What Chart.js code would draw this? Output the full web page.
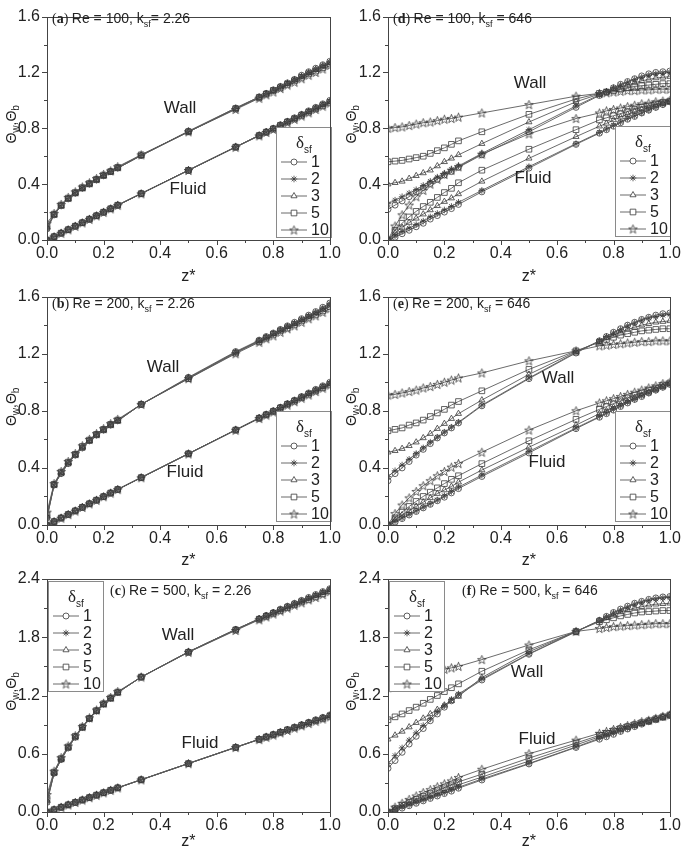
<!DOCTYPE html>
<html>
<head>
<meta charset="utf-8">
<script src="https://cdn.jsdelivr.net/npm/chart.js@4.4.1/dist/chart.umd.min.js"></script>
<style>
body { margin: 0; background: #fff; width: 685px; height: 855px; position: relative; overflow: hidden; }
canvas { position: absolute; }
</style>
</head>
<body>
<canvas id="pa" width="345" height="290" style="left:0;top:0"></canvas>
<canvas id="pd" width="345" height="290" style="left:340px;top:0"></canvas>
<canvas id="pb" width="345" height="290" style="left:0;top:280px"></canvas>
<canvas id="pe" width="345" height="290" style="left:340px;top:280px"></canvas>
<canvas id="pc" width="345" height="290" style="left:0;top:560px"></canvas>
<canvas id="pf" width="345" height="290" style="left:340px;top:560px"></canvas>
<script>
// axial position z*
const zStar = [0, 0.025, 0.05, 0.075, 0.1, 0.125, 0.15, 0.175, 0.2, 0.225, 0.25, 0.333, 0.5, 0.667,
               0.75, 0.775, 0.8, 0.825, 0.85, 0.875, 0.9, 0.925, 0.95, 0.975, 1.0];
const xTicks = [0, 0.2, 0.4, 0.6, 0.8, 1.0];
const yTicksLow = [0, 0.4, 0.8, 1.2, 1.6];
const yTicksHigh = [0, 0.6, 1.2, 1.8, 2.4];
const deltaLabels = ['1', '2', '3', '5', '10'];

// fluid, k_sf = 2.26 (a, b, c look the same)
const kFluid1 = [0, 0.025, 0.05, 0.075, 0.1, 0.125, 0.15, 0.175, 0.2, 0.225, 0.25, 0.333, 0.5, 0.667, 0.75, 0.775, 0.8, 0.825, 0.85, 0.875, 0.9, 0.925, 0.95, 0.975, 1.0];
const kFluid2 = [0, 0.025, 0.05, 0.075, 0.1, 0.125, 0.15, 0.175, 0.2, 0.225, 0.25, 0.333, 0.5, 0.667, 0.75, 0.774, 0.798, 0.823, 0.848, 0.873, 0.898, 0.922, 0.946, 0.97, 0.995];
const kFluid3 = [0, 0.025, 0.05, 0.075, 0.1, 0.125, 0.15, 0.175, 0.2, 0.225, 0.25, 0.333, 0.5, 0.666, 0.749, 0.773, 0.797, 0.821, 0.846, 0.87, 0.895, 0.919, 0.943, 0.967, 0.99];
const kFluid5 = [0, 0.024, 0.049, 0.074, 0.099, 0.124, 0.149, 0.174, 0.199, 0.224, 0.249, 0.332, 0.499, 0.665, 0.748, 0.772, 0.795, 0.82, 0.845, 0.868, 0.892, 0.916, 0.94, 0.963, 0.986];
const kFluid10 = [0, 0.023, 0.048, 0.073, 0.098, 0.123, 0.148, 0.173, 0.198, 0.223, 0.248, 0.331, 0.498, 0.664, 0.746, 0.77, 0.792, 0.816, 0.84, 0.864, 0.888, 0.911, 0.935, 0.958, 0.98];

// (a) Re = 100, k_sf = 2.26
const aWall1 = [0.08, 0.18, 0.245, 0.295, 0.335, 0.37, 0.40, 0.43, 0.46, 0.49, 0.515, 0.605, 0.78, 0.945, 1.025, 1.05, 1.075, 1.10, 1.125, 1.15, 1.18, 1.205, 1.23, 1.255, 1.28];
const aWall2 = [0.08, 0.18, 0.245, 0.295, 0.335, 0.37, 0.40, 0.43, 0.46, 0.49, 0.515, 0.605, 0.775, 0.945, 1.025, 1.05, 1.075, 1.10, 1.125, 1.15, 1.175, 1.20, 1.225, 1.25, 1.275];
const aWall3 = [0.09, 0.18, 0.245, 0.295, 0.335, 0.37, 0.40, 0.43, 0.46, 0.49, 0.515, 0.605, 0.775, 0.94, 1.02, 1.045, 1.07, 1.095, 1.12, 1.145, 1.17, 1.195, 1.22, 1.245, 1.27];
const aWall5 = [0.10, 0.185, 0.25, 0.30, 0.34, 0.375, 0.405, 0.435, 0.465, 0.49, 0.52, 0.61, 0.775, 0.94, 1.02, 1.045, 1.07, 1.09, 1.115, 1.14, 1.165, 1.19, 1.21, 1.235, 1.26];
const aWall10 = [0.12, 0.19, 0.255, 0.305, 0.345, 0.38, 0.41, 0.44, 0.47, 0.495, 0.525, 0.61, 0.775, 0.935, 1.015, 1.04, 1.06, 1.085, 1.11, 1.13, 1.155, 1.18, 1.20, 1.225, 1.25];

// (b) Re = 200, k_sf = 2.26
const bWall1 = [0.05, 0.28, 0.36, 0.43, 0.49, 0.54, 0.59, 0.63, 0.665, 0.70, 0.73, 0.845, 1.035, 1.215, 1.295, 1.32, 1.345, 1.37, 1.395, 1.42, 1.445, 1.47, 1.495, 1.525, 1.555];
const bWall2 = [0.05, 0.28, 0.36, 0.43, 0.49, 0.54, 0.59, 0.63, 0.665, 0.70, 0.73, 0.845, 1.03, 1.21, 1.29, 1.315, 1.34, 1.365, 1.39, 1.415, 1.44, 1.465, 1.49, 1.52, 1.55];
const bWall3 = [0.06, 0.28, 0.365, 0.435, 0.49, 0.545, 0.59, 0.63, 0.665, 0.70, 0.73, 0.845, 1.03, 1.21, 1.29, 1.315, 1.34, 1.365, 1.39, 1.41, 1.435, 1.46, 1.485, 1.51, 1.54];
const bWall5 = [0.07, 0.285, 0.37, 0.44, 0.495, 0.55, 0.595, 0.635, 0.67, 0.705, 0.735, 0.845, 1.025, 1.205, 1.285, 1.31, 1.335, 1.36, 1.38, 1.405, 1.43, 1.455, 1.475, 1.50, 1.53];
const bWall10 = [0.09, 0.29, 0.375, 0.445, 0.50, 0.555, 0.60, 0.64, 0.675, 0.71, 0.74, 0.845, 1.025, 1.20, 1.28, 1.305, 1.325, 1.35, 1.375, 1.395, 1.42, 1.445, 1.465, 1.49, 1.515];

// (c) Re = 500, k_sf = 2.26
const cWall1 = [0.10, 0.40, 0.54, 0.66, 0.77, 0.87, 0.96, 1.04, 1.11, 1.17, 1.23, 1.39, 1.65, 1.88, 1.99, 2.025, 2.055, 2.09, 2.12, 2.15, 2.18, 2.21, 2.24, 2.27, 2.30];
const cWall2 = [0.10, 0.40, 0.54, 0.66, 0.77, 0.87, 0.96, 1.04, 1.11, 1.17, 1.23, 1.39, 1.65, 1.88, 1.99, 2.02, 2.055, 2.085, 2.115, 2.145, 2.175, 2.205, 2.235, 2.265, 2.295];
const cWall3 = [0.12, 0.40, 0.545, 0.665, 0.775, 0.87, 0.96, 1.04, 1.11, 1.17, 1.23, 1.39, 1.65, 1.88, 1.99, 2.02, 2.05, 2.08, 2.11, 2.14, 2.17, 2.20, 2.23, 2.26, 2.29];
const cWall5 = [0.14, 0.41, 0.55, 0.67, 0.78, 0.875, 0.965, 1.045, 1.115, 1.175, 1.235, 1.39, 1.645, 1.875, 1.985, 2.015, 2.045, 2.075, 2.105, 2.135, 2.165, 2.19, 2.22, 2.25, 2.28];
const cWall10 = [0.18, 0.42, 0.56, 0.68, 0.785, 0.88, 0.97, 1.05, 1.12, 1.18, 1.24, 1.39, 1.645, 1.87, 1.98, 2.01, 2.04, 2.07, 2.10, 2.13, 2.155, 2.185, 2.21, 2.24, 2.27];

// (d) Re = 100, k_sf = 646
const dWall1 = [0.22, 0.25, 0.28, 0.31, 0.345, 0.375, 0.405, 0.435, 0.465, 0.49, 0.52, 0.61, 0.775, 0.95, 1.035, 1.06, 1.09, 1.115, 1.135, 1.155, 1.175, 1.19, 1.20, 1.205, 1.21];
const dWall2 = [0.26, 0.285, 0.31, 0.335, 0.36, 0.39, 0.42, 0.45, 0.475, 0.505, 0.53, 0.62, 0.79, 0.96, 1.04, 1.065, 1.09, 1.11, 1.13, 1.15, 1.165, 1.18, 1.19, 1.195, 1.20];
const dWall3 = [0.40, 0.41, 0.42, 0.44, 0.46, 0.48, 0.50, 0.53, 0.56, 0.585, 0.61, 0.69, 0.845, 0.99, 1.045, 1.06, 1.08, 1.095, 1.11, 1.125, 1.14, 1.15, 1.16, 1.165, 1.17];
const dWall5 = [0.56, 0.565, 0.57, 0.58, 0.59, 0.60, 0.62, 0.64, 0.66, 0.685, 0.71, 0.775, 0.90, 1.01, 1.05, 1.06, 1.07, 1.08, 1.09, 1.10, 1.105, 1.11, 1.115, 1.12, 1.12];
const dWall10 = [0.80, 0.805, 0.81, 0.82, 0.83, 0.84, 0.845, 0.855, 0.865, 0.87, 0.88, 0.91, 0.97, 1.03, 1.05, 1.055, 1.06, 1.065, 1.07, 1.07, 1.075, 1.075, 1.08, 1.08, 1.08];
const dFluid1 = [0, 0.02, 0.045, 0.07, 0.095, 0.12, 0.15, 0.175, 0.2, 0.225, 0.255, 0.345, 0.515, 0.685, 0.765, 0.79, 0.815, 0.84, 0.865, 0.885, 0.91, 0.93, 0.95, 0.97, 0.99];
const dFluid2 = [0, 0.03, 0.06, 0.085, 0.11, 0.135, 0.165, 0.19, 0.215, 0.24, 0.27, 0.355, 0.525, 0.69, 0.77, 0.795, 0.82, 0.845, 0.87, 0.89, 0.91, 0.93, 0.95, 0.97, 0.99];
const dFluid3 = [0, 0.05, 0.09, 0.125, 0.155, 0.185, 0.215, 0.245, 0.275, 0.30, 0.33, 0.42, 0.585, 0.74, 0.815, 0.835, 0.86, 0.88, 0.90, 0.92, 0.935, 0.95, 0.965, 0.98, 0.99];
const dFluid5 = [0, 0.07, 0.12, 0.165, 0.205, 0.24, 0.27, 0.305, 0.34, 0.37, 0.41, 0.50, 0.65, 0.79, 0.86, 0.875, 0.89, 0.905, 0.92, 0.935, 0.95, 0.96, 0.975, 0.985, 0.995];
const dFluid10 = [0, 0.10, 0.18, 0.25, 0.31, 0.355, 0.40, 0.435, 0.47, 0.50, 0.525, 0.615, 0.76, 0.87, 0.91, 0.925, 0.935, 0.945, 0.955, 0.965, 0.975, 0.98, 0.99, 0.995, 1.0];

// (e) Re = 200, k_sf = 646
const eWall1 = [0.31, 0.36, 0.40, 0.445, 0.49, 0.53, 0.57, 0.61, 0.645, 0.68, 0.715, 0.835, 1.025, 1.205, 1.29, 1.32, 1.35, 1.375, 1.40, 1.42, 1.44, 1.455, 1.47, 1.48, 1.485];
const eWall2 = [0.34, 0.38, 0.42, 0.46, 0.50, 0.54, 0.58, 0.615, 0.65, 0.685, 0.72, 0.84, 1.03, 1.21, 1.29, 1.32, 1.345, 1.37, 1.395, 1.415, 1.435, 1.45, 1.46, 1.47, 1.475];
const eWall3 = [0.51, 0.52, 0.535, 0.555, 0.58, 0.61, 0.64, 0.675, 0.71, 0.745, 0.78, 0.875, 1.055, 1.215, 1.285, 1.31, 1.33, 1.35, 1.37, 1.385, 1.40, 1.41, 1.42, 1.425, 1.43];
const eWall5 = [0.66, 0.67, 0.68, 0.70, 0.715, 0.735, 0.76, 0.785, 0.81, 0.84, 0.865, 0.94, 1.09, 1.22, 1.28, 1.30, 1.315, 1.33, 1.34, 1.35, 1.36, 1.365, 1.37, 1.375, 1.375];
const eWall10 = [0.91, 0.915, 0.925, 0.935, 0.945, 0.96, 0.97, 0.985, 1.0, 1.015, 1.03, 1.065, 1.15, 1.22, 1.255, 1.26, 1.265, 1.27, 1.275, 1.28, 1.285, 1.285, 1.29, 1.29, 1.29];
const eFluid1 = [0, 0.02, 0.045, 0.07, 0.095, 0.12, 0.145, 0.17, 0.195, 0.225, 0.255, 0.34, 0.505, 0.675, 0.755, 0.78, 0.805, 0.83, 0.855, 0.88, 0.90, 0.925, 0.945, 0.965, 0.985];
const eFluid2 = [0, 0.025, 0.05, 0.075, 0.10, 0.125, 0.15, 0.175, 0.205, 0.235, 0.265, 0.35, 0.515, 0.68, 0.76, 0.785, 0.81, 0.835, 0.86, 0.88, 0.905, 0.925, 0.945, 0.965, 0.985];
const eFluid3 = [0, 0.035, 0.07, 0.10, 0.13, 0.16, 0.19, 0.22, 0.245, 0.27, 0.30, 0.385, 0.545, 0.70, 0.78, 0.80, 0.825, 0.845, 0.865, 0.89, 0.91, 0.93, 0.95, 0.97, 0.99];
const eFluid5 = [0, 0.05, 0.09, 0.13, 0.165, 0.20, 0.23, 0.26, 0.29, 0.32, 0.345, 0.43, 0.59, 0.74, 0.81, 0.83, 0.85, 0.87, 0.89, 0.91, 0.925, 0.945, 0.96, 0.98, 0.995];
const eFluid10 = [0, 0.08, 0.14, 0.19, 0.235, 0.275, 0.31, 0.345, 0.375, 0.405, 0.43, 0.51, 0.665, 0.80, 0.855, 0.87, 0.885, 0.90, 0.915, 0.93, 0.945, 0.96, 0.975, 0.99, 1.0];

// (f) Re = 500, k_sf = 646
const fWall1 = [0.45, 0.53, 0.615, 0.70, 0.78, 0.86, 0.94, 1.01, 1.08, 1.145, 1.205, 1.36, 1.625, 1.855, 1.975, 2.015, 2.055, 2.09, 2.12, 2.15, 2.17, 2.19, 2.205, 2.215, 2.22];
const fWall2 = [0.50, 0.58, 0.66, 0.74, 0.815, 0.89, 0.96, 1.03, 1.095, 1.16, 1.215, 1.37, 1.63, 1.86, 1.97, 2.01, 2.05, 2.08, 2.11, 2.14, 2.16, 2.18, 2.195, 2.205, 2.21];
const fWall3 = [0.75, 0.79, 0.83, 0.875, 0.92, 0.965, 1.01, 1.055, 1.10, 1.145, 1.19, 1.385, 1.65, 1.86, 1.97, 2.0, 2.03, 2.06, 2.08, 2.10, 2.115, 2.13, 2.14, 2.145, 2.15];
const fWall5 = [0.95, 0.98, 1.01, 1.045, 1.08, 1.12, 1.16, 1.20, 1.24, 1.28, 1.32, 1.45, 1.67, 1.86, 1.96, 1.98, 2.0, 2.02, 2.035, 2.05, 2.06, 2.065, 2.07, 2.075, 2.075];
const fWall10 = [1.28, 1.31, 1.34, 1.37, 1.39, 1.41, 1.43, 1.45, 1.47, 1.485, 1.50, 1.57, 1.72, 1.86, 1.89, 1.90, 1.91, 1.915, 1.92, 1.925, 1.93, 1.935, 1.94, 1.94, 1.94];
const fFluid1 = [0, 0.02, 0.04, 0.065, 0.09, 0.115, 0.14, 0.165, 0.19, 0.215, 0.245, 0.33, 0.495, 0.665, 0.75, 0.775, 0.80, 0.83, 0.855, 0.88, 0.905, 0.93, 0.95, 0.975, 0.995];
const fFluid2 = [0, 0.025, 0.05, 0.075, 0.10, 0.125, 0.15, 0.175, 0.20, 0.225, 0.255, 0.34, 0.50, 0.67, 0.76, 0.785, 0.81, 0.835, 0.86, 0.885, 0.91, 0.93, 0.955, 0.975, 0.995];
const fFluid3 = [0, 0.03, 0.06, 0.085, 0.11, 0.135, 0.16, 0.19, 0.22, 0.25, 0.28, 0.36, 0.525, 0.69, 0.775, 0.80, 0.825, 0.85, 0.875, 0.895, 0.915, 0.94, 0.96, 0.98, 1.0];
const fFluid5 = [0, 0.035, 0.07, 0.10, 0.13, 0.16, 0.19, 0.22, 0.25, 0.28, 0.31, 0.39, 0.555, 0.71, 0.79, 0.81, 0.835, 0.86, 0.88, 0.90, 0.92, 0.94, 0.96, 0.98, 1.0];
const fFluid10 = [0, 0.05, 0.09, 0.13, 0.165, 0.20, 0.23, 0.26, 0.29, 0.32, 0.355, 0.44, 0.60, 0.74, 0.81, 0.83, 0.85, 0.87, 0.89, 0.91, 0.93, 0.945, 0.965, 0.985, 1.0];

const SANS = '"Liberation Sans", Arial, sans-serif';
const SERIF = '"Liberation Serif", "Times New Roman", serif';
const INK = '#222';
const LINE = '#5a5a5a';
const MARK = '#3a3a3a';

// open five-point star, Chart.js has none
const starMark = document.createElement('canvas');
starMark.width = 11;
starMark.height = 11;
(function () {
    const c = starMark.getContext('2d');
    c.strokeStyle = MARK;
    c.lineWidth = 0.8;
    c.beginPath();
    for (let i = 0; i < 10; i++) {
        const r = i % 2 ? 1.9 : 4.6;
        const a = -Math.PI / 2 + i * Math.PI / 5;
        const px = 5.5 + r * Math.cos(a), py = 5.9 + r * Math.sin(a);
        if (i) c.lineTo(px, py); else c.moveTo(px, py);
    }
    c.closePath();
    c.stroke();
})();

const markStyles = ['circle', 'star', 'triangle', 'rect', starMark];
const markSizes = [3, 3.3, 3.5, 4, 4];

function series(ys, i, label) {
    return {
        label: label,
        data: zStar.map((z, k) => ({ x: z, y: ys[k] })),
        showLine: true,
        borderColor: LINE,
        borderWidth: 0.9,
        pointStyle: markStyles[i],
        pointRadius: markSizes[i],
        pointHoverRadius: markSizes[i],
        pointBorderColor: MARK,
        pointBackgroundColor: 'rgba(255,255,255,0)',
        pointBorderWidth: 0.8
    };
}

// text with subscripts: parts = [text, font, dy]
function rich(ctx, parts, x, y, align) {
    let w = 0;
    parts.forEach(p => { ctx.font = p[1]; w += ctx.measureText(p[0]).width; });
    let cx = align === 'center' ? x - w / 2 : x;
    ctx.textAlign = 'left';
    ctx.textBaseline = 'alphabetic';
    parts.forEach(p => {
        ctx.font = p[1];
        ctx.fillText(p[0], cx, y + (p[2] || 0));
        cx += ctx.measureText(p[0]).width;
    });
}

function decor(p) {
    return {
        id: 'decor',
        afterDatasetsDraw(chart) {
            const ctx = chart.ctx;
            const L = p.legend;
            ctx.save();
            ctx.fillStyle = '#fff';
            ctx.fillRect(L[0], L[1], 55, 110);
            ctx.strokeStyle = '#8a8a8a';
            ctx.lineWidth = 1;
            ctx.strokeRect(L[0] + 0.5, L[1] + 0.5, 55, 110);
            ctx.fillStyle = INK;
            rich(ctx, [['δ', '17px ' + SERIF], ['sf', '10px ' + SANS, 5]], L[0] + 28, L[1] + 21, 'center');
            for (let i = 0; i < 5; i++) {
                const ds = chart.data.datasets[i];
                const ly = L[1] + 35 + i * 17;
                ctx.strokeStyle = LINE;
                ctx.lineWidth = 0.9;
                ctx.beginPath();
                ctx.moveTo(L[0] + 5, ly);
                ctx.lineTo(L[0] + 31, ly);
                ctx.stroke();
                ctx.strokeStyle = MARK;
                ctx.fillStyle = '#fff';
                ctx.lineWidth = 0.8;
                Chart.helpers.drawPoint(ctx, { pointStyle: ds.pointStyle, radius: ds.pointRadius, borderWidth: 0.8, rotation: 0 }, L[0] + 18, ly);
                ctx.fillStyle = INK;
                ctx.font = '16px ' + SANS;
                ctx.textAlign = 'left';
                ctx.textBaseline = 'middle';
                ctx.fillText(ds.label, L[0] + 35, ly + 1);
            }
            ctx.restore();
        },
        afterDraw(chart) {
            const ctx = chart.ctx;
            const a = chart.chartArea;
            const xs = chart.scales.x, ys = chart.scales.y;
            ctx.save();
            ctx.strokeStyle = '#444';
            ctx.lineWidth = 1;
            ctx.strokeRect(Math.round(a.left) + 0.5, Math.round(a.top) + 0.5, Math.round(a.right - a.left), Math.round(a.bottom - a.top));
            ctx.beginPath();
            for (let i = 0; i < xTicks.length; i++) {
                const px = Math.round(xs.getPixelForValue(xTicks[i])) + 0.5;
                ctx.moveTo(px, a.bottom); ctx.lineTo(px, a.bottom + 5);
                if (i < xTicks.length - 1) {
                    const mx = Math.round(xs.getPixelForValue((xTicks[i] + xTicks[i + 1]) / 2)) + 0.5;
                    ctx.moveTo(mx, a.bottom); ctx.lineTo(mx, a.bottom + 3);
                }
            }
            const yt = p.yTicks;
            for (let i = 0; i < yt.length; i++) {
                const py = Math.round(ys.getPixelForValue(yt[i])) + 0.5;
                ctx.moveTo(a.left, py); ctx.lineTo(a.left - 5, py);
                if (i < yt.length - 1) {
                    const my = Math.round(ys.getPixelForValue((yt[i] + yt[i + 1]) / 2)) + 0.5;
                    ctx.moveTo(a.left, my); ctx.lineTo(a.left - 3, my);
                }
            }
            ctx.stroke();

            ctx.fillStyle = INK;
            // panel caption
            const T = p.title;
            rich(ctx, [['(', '14px ' + SERIF], [p.tag, 'bold 14px ' + SERIF], [') ', '14px ' + SERIF],
                       ['Re = ' + p.re + ', k', '14px ' + SANS], ['sf', '9px ' + SANS, 4], [p.ksf, '14px ' + SANS]],
                 T[0], T[1], 'left');
            ctx.font = '17px ' + SANS;
            ctx.textAlign = 'center';
            ctx.textBaseline = 'middle';
            ctx.fillText('Wall', p.wallAt[0], p.wallAt[1]);
            ctx.fillText('Fluid', p.fluidAt[0], p.fluidAt[1]);
            ctx.font = '16px ' + SANS;
            ctx.fillText('z*', (a.left + a.right) / 2, p.zY);
            // y title
            ctx.translate(16, (a.top + a.bottom) / 2 - 4);
            ctx.rotate(-Math.PI / 2);
            rich(ctx, [['Θ', '14px ' + SANS], ['w', '10px ' + SANS, 3], [',', '14px ' + SANS],
                       ['Θ', '14px ' + SANS], ['b', '10px ' + SANS, 3]], 0, 0, 'center');
            ctx.restore();
        }
    };
}

function makePanel(p) {
    const sets = [];
    p.wall.forEach((ys, i) => sets.push(series(ys, i, deltaLabels[i])));
    p.fluid.forEach((ys, i) => sets.push(series(ys, i, '')));
    new Chart(document.getElementById(p.id), {
        type: 'scatter',
        data: { datasets: sets },
        options: {
            responsive: false,
            animation: false,
            events: [],
            layout: { padding: { top: p.padTop, right: 12, left: 0, bottom: 290 - p.padTop - p.plotH - 26 } },
            plugins: { legend: { display: false }, tooltip: { enabled: false } },
            scales: {
                x: {
                    type: 'linear', min: 0, max: 1,
                    grid: { display: false, drawTicks: false }, border: { display: false },
                    afterBuildTicks: s => { s.ticks = xTicks.map(v => ({ value: v })); },
                    afterFit: s => { s.height = 26; },
                    ticks: { autoSkip: false, maxRotation: 0, padding: 4, color: INK,
                             font: { family: SANS, size: 16 }, callback: v => v.toFixed(1) }
                },
                y: {
                    type: 'linear', min: 0, max: p.yTicks[p.yTicks.length - 1],
                    grid: { display: false, drawTicks: false }, border: { display: false },
                    afterBuildTicks: s => { s.ticks = p.yTicks.map(v => ({ value: v })); },
                    afterFit: s => { s.width = p.axisW; },
                    ticks: { autoSkip: false, padding: 7, color: INK,
                             font: { family: SANS, size: 16 }, callback: v => v.toFixed(1) }
                }
            }
        },
        plugins: [decor(p)]
    });
}

makePanel({ id: 'pa', tag: 'a', re: 100, ksf: '= 2.26', padTop: 8, plotH: 232, axisW: 47, zY: 277, yTicks: yTicksLow,
            title: [52, 23], wallAt: [180, 108], fluidAt: [188, 189], legend: [276, 127],
            wall: [aWall1, aWall2, aWall3, aWall5, aWall10], fluid: [kFluid1, kFluid2, kFluid3, kFluid5, kFluid10] });
makePanel({ id: 'pb', tag: 'b', re: 200, ksf: ' = 2.26', padTop: 12, plotH: 233, axisW: 47, zY: 281, yTicks: yTicksLow,
            title: [52, 28], wallAt: [163, 87], fluidAt: [185, 192], legend: [276, 131],
            wall: [bWall1, bWall2, bWall3, bWall5, bWall10], fluid: [kFluid1, kFluid2, kFluid3, kFluid5, kFluid10] });
makePanel({ id: 'pc', tag: 'c', re: 500, ksf: ' = 2.26', padTop: 19, plotH: 233, axisW: 47, zY: 282, yTicks: yTicksHigh,
            title: [110, 35], wallAt: [178, 75], fluidAt: [200, 183], legend: [48, 21],
            wall: [cWall1, cWall2, cWall3, cWall5, cWall10], fluid: [kFluid1, kFluid2, kFluid3, kFluid5, kFluid10] });
makePanel({ id: 'pd', tag: 'd', re: 100, ksf: ' = 646', padTop: 8, plotH: 232, axisW: 48, zY: 277, yTicks: yTicksLow,
            title: [53, 23], wallAt: [190, 83], fluidAt: [193, 178], legend: [275, 126],
            wall: [dWall1, dWall2, dWall3, dWall5, dWall10], fluid: [dFluid1, dFluid2, dFluid3, dFluid5, dFluid10] });
makePanel({ id: 'pe', tag: 'e', re: 200, ksf: ' = 646', padTop: 12, plotH: 233, axisW: 48, zY: 281, yTicks: yTicksLow,
            title: [53, 28], wallAt: [218, 98], fluidAt: [207, 182], legend: [275, 131],
            wall: [eWall1, eWall2, eWall3, eWall5, eWall10], fluid: [eFluid1, eFluid2, eFluid3, eFluid5, eFluid10] });
makePanel({ id: 'pf', tag: 'f', re: 500, ksf: ' = 646', padTop: 19, plotH: 233, axisW: 48, zY: 282, yTicks: yTicksHigh,
            title: [122, 35], wallAt: [187, 112], fluidAt: [197, 179], legend: [49, 21],
            wall: [fWall1, fWall2, fWall3, fWall5, fWall10], fluid: [fFluid1, fFluid2, fFluid3, fFluid5, fFluid10] });
</script>
</body>
</html>
